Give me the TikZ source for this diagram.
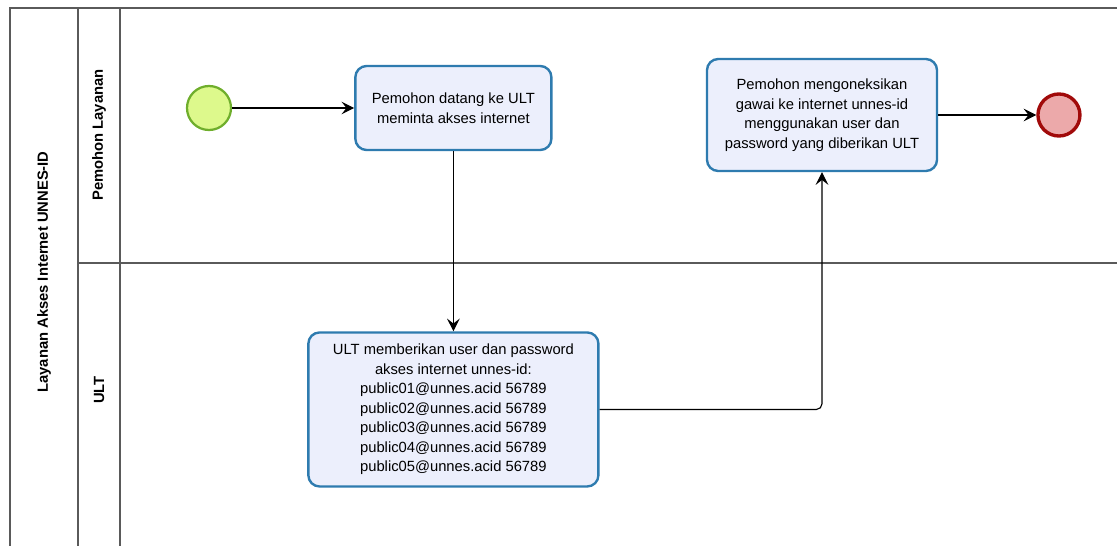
\documentclass[tikz,border=0pt]{standalone}
\usepackage{fontspec}
\setmainfont{Liberation Sans}
\usepackage{xcolor}
\usetikzlibrary{arrows.meta,positioning}

\definecolor{taskfill}{HTML}{ECEFFC}
\definecolor{taskline}{HTML}{2E7BAF}
\definecolor{startfill}{HTML}{DDF98C}
\definecolor{startline}{HTML}{6FAE2C}
\definecolor{endfill}{HTML}{ECA9AA}
\definecolor{endline}{HTML}{A10A0A}
\definecolor{poolline}{HTML}{5A5A5A}

\begin{document}
\begin{tikzpicture}[
    x=0.025cm, y=-0.025cm,
    >={Stealth[length=9pt,width=9pt,inset=3.5pt]},
    task/.style={
        rectangle, draw=taskline, fill=taskfill, line width=1.7pt,
        rounded corners=8pt, align=center,
        font=\fontsize{10.5}{13.9}\selectfont
    },
    startev/.style={
        circle, draw=startline, fill=startfill, line width=1.6pt,
        minimum size=1.1cm, inner sep=0pt
    },
    endev/.style={
        circle, draw=endline, fill=endfill, line width=2.4pt,
        minimum size=1.05cm, inner sep=0pt
    },
    pool/.style={
        draw=poolline, line width=0.9pt
    },
    lanelabel/.style={
        rotate=90, font=\bfseries\fontsize{10.5}{12}\selectfont
    },
    flow/.style={
        ->, line width=0.8pt, draw=black
    }
]
\useasboundingbox (0,0) rectangle (1117,546);

% Pool and lanes
\draw[pool] (1117,8) -- (10,8) -- (10,546);
\draw[pool] (78,8) -- (78,546);
\draw[pool] (120,8) -- (120,546);
\draw[pool] (78,263) -- (1117,263);

\node[lanelabel] (poolname) at (44,272) {Layanan Akses Internet UNNES-ID};
\node[lanelabel] (lanepemohon) at (99,135) {Pemohon Layanan};
\node[lanelabel] (laneult) at (99,390) {ULT};

% Events and tasks
\node[startev] (start) at (209,108) {};
\node[task, minimum width=4.9cm, minimum height=2.1cm,
      right=3.05cm of start] (datang)
    {Pemohon datang ke ULT\\meminta akses internet};
\node[task, minimum width=7.25cm, minimum height=3.85cm,
      below=4.5cm of datang] (beri)
    {ULT memberikan user dan password\\akses internet unnes-id:\\
     public01@unnes.acid 56789\\public02@unnes.acid 56789\\
     public03@unnes.acid 56789\\public04@unnes.acid 56789\\
     public05@unnes.acid 56789};
\node[task, minimum width=5.75cm, minimum height=2.8cm] (koneksi) at (822,115)
    {Pemohon mengoneksikan\\gawai ke internet unnes-id\\menggunakan user dan\\password yang diberikan ULT};
\node[endev, right=2.45cm of koneksi] (selesai) {};

% Sequence flows
\draw[flow] (start) -- (datang);
\draw[flow] (datang.south) -- (beri.north);
\draw[flow, rounded corners=4pt] (beri.east) -| (koneksi.south);
\draw[flow] (koneksi) -- (selesai);

\end{tikzpicture}
\end{document}
